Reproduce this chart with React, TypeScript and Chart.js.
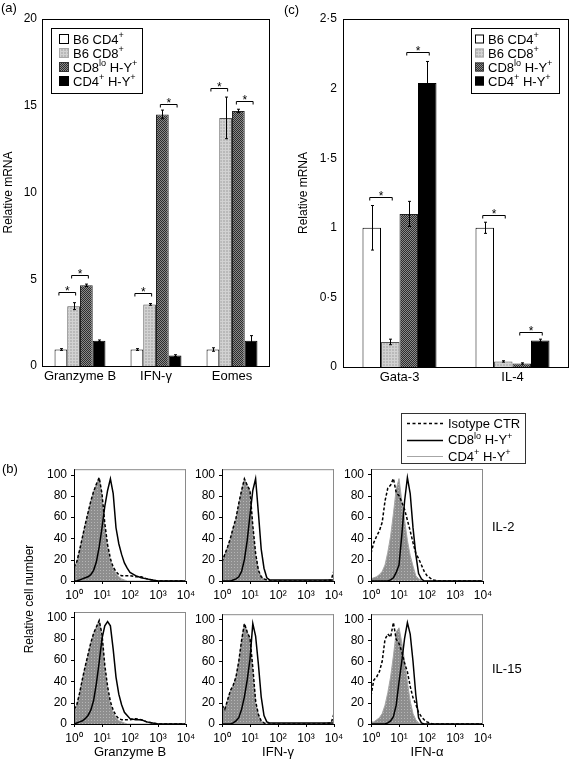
import React, { useEffect, useRef } from 'react';
import { Chart, registerables } from 'chart.js';

Chart.register(...registerables);

const FONT = "'Liberation Sans', Arial, Helvetica, sans-serif";
Chart.defaults.font.family = FONT;
Chart.defaults.color = '#000';

// ---------------- shared series labels ----------------
const SERIES_LABELS = ['B6 CD4^+', 'B6 CD8^+', 'CD8^{lo} H-Y^+', 'CD4^+ H-Y^+'];

// ---------------- Panel (a) ----------------
const A_CATEGORIES = ['Granzyme B', 'IFN-γ', 'Eomes'];
const A_B6_CD4 = [0.95, 0.95, 0.95];
const A_B6_CD8 = [3.45, 3.55, 14.3];
const A_CD8LO_HY = [4.65, 14.5, 14.7];
const A_CD4_HY = [1.45, 0.6, 1.45];
const A_ERR_B6_CD4 = [0.05, 0.05, 0.1];
const A_ERR_B6_CD8 = [0.2, 0.05, 1.2];
const A_ERR_CD8LO_HY = [0.07, 0.25, 0.1];
const A_ERR_CD4_HY = [0.05, 0.05, 0.3];
// significance brackets: [category, series A, series B, height]
const A_SIG = [
  [0, 0, 1, 4.28],
  [0, 1, 2, 5.24],
  [1, 0, 1, 4.19],
  [1, 2, 3, 15.1],
  [2, 0, 1, 16.0],
  [2, 2, 3, 15.3],
];
const A_Y_MAX = 20;
const A_Y_STEP = 5;

// ---------------- Panel (c) ----------------
const C_CATEGORIES = ['Gata-3', 'IL-4'];
const C_B6_CD4 = [1.0, 1.0];
const C_B6_CD8 = [0.18, 0.04];
const C_CD8LO_HY = [1.1, 0.025];
const C_CD4_HY = [2.04, 0.19];
const C_ERR_B6_CD4 = [0.16, 0.04];
const C_ERR_B6_CD8 = [0.02, 0.005];
const C_ERR_CD8LO_HY = [0.09, 0.005];
const C_ERR_CD4_HY = [0.155, 0.01];
const C_SIG = [
  [0, 0, 1, 1.22],
  [0, 2, 3, 2.26],
  [1, 0, 1, 1.09],
  [1, 2, 3, 0.255],
];
const C_Y_MAX = 2.5;
const C_Y_STEP = 0.5;

// ---------------- Panel (b) histograms ----------------
const LOG_X = [0, 0.1, 0.2, 0.3, 0.4, 0.5, 0.6, 0.7, 0.8, 0.9, 1.0, 1.1, 1.2, 1.3, 1.4, 1.5, 1.6, 1.7, 1.8, 1.9, 2.0, 2.2, 2.4, 2.6, 2.8, 3.0, 3.5, 3.9, 4.0];
const HIST_X_TICK_LABELS = ['10⁰', '10¹', '10²', '10³', '10⁴'];
const HIST_LEGEND = ['Isotype CTR', 'CD8^{lo} H-Y^+', 'CD4^+ H-Y^+'];

const GZB_IL2_CD8 = [0, 0, 1, 2, 3, 4, 6, 10, 18, 32, 50, 70, 85, 96, 82, 50, 35, 25, 17, 12, 8, 5, 3, 2, 1, 0, 0, 0, 0];
const GZB_IL2_ISO = [13, 18, 29, 41, 53, 64, 75, 84, 91, 97, 82, 54, 34, 21, 13, 9, 6, 5, 5, 5, 5, 4, 4, 2, 1, 0, 0, 0, 0];
const GZB_IL2_CD4 = [13, 18, 29, 41, 53, 64, 75, 84, 91, 97, 80, 50, 32, 19, 12, 7, 4, 2, 1, 0, 0, 0, 0, 0, 0, 0, 0, 0, 0];

const IFNG_IL2_CD8 = [0, 0, 0, 0, 1, 2, 4, 9, 20, 38, 62, 85, 96, 64, 30, 12, 3, 1, 1, 1, 1, 1, 1, 1, 1, 1, 1, 1, 1];
const IFNG_IL2_ISO = [18, 25, 32, 40, 50, 59, 73, 85, 96, 90, 85, 52, 26, 10, 4, 2, 1, 0, 0, 0, 0, 0, 0, 0, 0, 0, 0, 1, 10];
const IFNG_IL2_CD4 = [18, 25, 32, 40, 50, 59, 73, 85, 96, 90, 85, 50, 25, 10, 4, 2, 0, 0, 0, 0, 0, 0, 0, 0, 0, 0, 0, 0, 0];

const IFNA_IL2_CD8 = [0, 0, 0, 0, 0, 0, 0, 1, 3, 8, 15, 43, 75, 97, 82, 50, 25, 7, 2, 0, 0, 0, 0, 0, 0, 0, 0, 0, 0];
const IFNA_IL2_ISO = [26, 36, 42, 47, 55, 75, 87, 90, 96, 83, 80, 74, 67, 57, 47, 36, 26, 21, 15, 9, 5, 1, 0, 0, 0, 0, 0, 0, 0];
const IFNA_IL2_CD4 = [2, 3, 4, 6, 9, 15, 27, 42, 63, 86, 96, 75, 57, 38, 24, 14, 5, 2, 1, 0, 0, 0, 0, 0, 0, 0, 0, 0, 0];

const GZB_IL15_CD8 = [0, 1, 2, 3, 5, 8, 13, 22, 38, 58, 80, 92, 96, 92, 70, 44, 28, 18, 11, 8, 5, 4, 4, 2, 1, 0, 0, 0, 0];
const GZB_IL15_ISO = [14, 18, 29, 42, 54, 65, 76, 85, 91, 97, 84, 55, 35, 21, 13, 8, 5, 4, 4, 4, 4, 5, 4, 2, 1, 0, 0, 0, 0];
const GZB_IL15_CD4 = [14, 18, 29, 42, 54, 65, 76, 85, 91, 97, 82, 52, 32, 19, 11, 6, 3, 2, 1, 0, 0, 0, 0, 0, 0, 0, 0, 0, 0];

const IFNG_IL15_CD8 = [0, 0, 0, 0, 1, 3, 6, 14, 26, 42, 62, 96, 84, 57, 26, 8, 2, 1, 1, 1, 1, 1, 1, 1, 1, 1, 1, 1, 1];
const IFNG_IL15_ISO = [18, 14, 23, 32, 37, 45, 60, 80, 96, 88, 82, 54, 22, 9, 3, 1, 0, 0, 0, 0, 0, 0, 0, 0, 0, 0, 0, 1, 10];
const IFNG_IL15_CD4 = [18, 14, 23, 32, 37, 45, 60, 80, 96, 88, 82, 52, 20, 9, 3, 1, 0, 0, 0, 0, 0, 0, 0, 0, 0, 0, 0, 0, 0];

const IFNA_IL15_CD8 = [0, 0, 0, 0, 0, 0, 1, 3, 7, 18, 40, 60, 82, 97, 86, 60, 28, 6, 1, 0, 0, 0, 0, 0, 0, 0, 0, 0, 0];
const IFNA_IL15_ISO = [27, 42, 45, 50, 60, 81, 86, 83, 97, 81, 77, 69, 58, 50, 36, 25, 19, 11, 7, 4, 2, 0, 0, 0, 0, 0, 0, 0, 0];
const IFNA_IL15_CD4 = [2, 2, 4, 6, 10, 18, 30, 45, 65, 88, 92, 78, 60, 40, 22, 10, 4, 1, 0, 0, 0, 0, 0, 0, 0, 0, 0, 0, 0];

// ---------------- helpers ----------------
type Pad = { left: number; top: number; right: number; bottom: number };

function makePattern(size: number, paint: (c: CanvasRenderingContext2D) => void): any {
  const cv = document.createElement('canvas');
  cv.width = size;
  cv.height = size;
  const c = cv.getContext('2d')!;
  paint(c);
  return c.createPattern(cv, 'repeat') || '#999';
}
const lightPattern = () =>
  makePattern(3, (c) => {
    c.fillStyle = '#b9b9b9';
    c.fillRect(0, 0, 3, 3);
    c.fillStyle = '#d2d2d2';
    c.fillRect(0, 0, 3, 1);
    c.fillRect(0, 0, 1, 3);
  });
const darkPattern = () =>
  makePattern(2, (c) => {
    c.fillStyle = '#8a8a8a';
    c.fillRect(0, 0, 2, 2);
    c.fillStyle = '#2c2c2c';
    c.fillRect(0, 0, 1, 1);
    c.fillRect(1, 1, 1, 1);
  });
const histPattern = () =>
  makePattern(3, (c) => {
    c.fillStyle = '#8e8e8e';
    c.fillRect(0, 0, 3, 3);
    c.fillStyle = '#b6b6b6';
    c.fillRect(1, 1, 1, 1);
  });

function parseRich(s: string) {
  const out: { t: string; sup: boolean }[] = [];
  let buf = '';
  for (let i = 0; i < s.length; i++) {
    const ch = s[i];
    if (ch === '^') {
      if (buf) {
        out.push({ t: buf, sup: false });
        buf = '';
      }
      if (s[i + 1] === '{') {
        const j = s.indexOf('}', i + 2);
        out.push({ t: s.slice(i + 2, j), sup: true });
        i = j;
      } else {
        out.push({ t: s[i + 1], sup: true });
        i++;
      }
    } else buf += ch;
  }
  if (buf) out.push({ t: buf, sup: false });
  return out;
}

function drawRich(ctx: CanvasRenderingContext2D, s: string, x: number, yCenter: number, size: number) {
  ctx.save();
  ctx.textBaseline = 'alphabetic';
  ctx.textAlign = 'left';
  ctx.fillStyle = '#000';
  const base = yCenter + size * 0.36;
  let cx = x;
  for (const p of parseRich(s)) {
    const fs = p.sup ? size * 0.7 : size;
    ctx.font = `${fs}px ${FONT}`;
    ctx.fillText(p.t, cx, p.sup ? base - size * 0.4 : base);
    cx += ctx.measureText(p.t).width;
  }
  ctx.restore();
}

function drawText(ctx: CanvasRenderingContext2D, s: string, x: number, yCenter: number, size: number, align: CanvasTextAlign = 'left', rot = 0) {
  ctx.save();
  ctx.translate(x, yCenter);
  ctx.rotate(rot);
  ctx.font = `${size}px ${FONT}`;
  ctx.fillStyle = '#000';
  ctx.textAlign = align;
  ctx.textBaseline = 'middle';
  ctx.fillText(s, 0, 0);
  ctx.restore();
}

// ---------------- bar chart config ----------------
interface BarSpec {
  labels: string[];
  series: number[][];
  errors: number[][];
  sig: number[][];
  yMax: number;
  yStep: number;
  tickFmt?: (v: number) => string;
  padding: Pad;
  yW: number;
  xH: number;
  yTickPad: number;
  titlePadTop: number;
  catPct: number;
  legend: { x: number; y: number; w: number; h: number; sx: number; sw: number; tx: number };
  panel: { text: string; x: number; y: number };
}

function barConfig(p: BarSpec): any {
  const fills = ['#ffffff', lightPattern(), darkPattern(), '#000000'];
  const swatchBorders = ['#000', '#a8a8a8', '#333', '#000'];
  const barBorders = ['#000', '#555', '#222', '#000'];
  return {
    type: 'bar',
    data: {
      labels: p.labels,
      datasets: p.series.map((d, i) => ({
        label: SERIES_LABELS[i],
        data: d,
        errors: p.errors[i],
        backgroundColor: fills[i],
        borderColor: barBorders[i],
        borderWidth: 1,
        categoryPercentage: p.catPct,
        barPercentage: 1,
      })),
    },
    options: {
      responsive: false,
      animation: false,
      devicePixelRatio: 1,
      layout: { padding: p.padding },
      plugins: { legend: { display: false }, tooltip: { enabled: false } },
      scales: {
        x: {
          grid: { display: false, drawTicks: false },
          border: { display: false },
          ticks: { font: { size: 13 }, color: '#000', padding: 3, maxRotation: 0 },
          afterFit: (s: any) => {
            s.height = p.xH;
          },
        },
        y: {
          min: 0,
          max: p.yMax,
          grid: { display: false, drawTicks: false },
          border: { display: false },
          ticks: {
            stepSize: p.yStep,
            font: { size: 12 },
            color: '#000',
            padding: p.yTickPad,
            callback: p.tickFmt ? (v: any) => p.tickFmt!(Number(v)) : undefined,
          },
          title: { display: true, text: 'Relative mRNA', font: { size: 12 }, color: '#000', padding: { top: p.titlePadTop, bottom: 0 } },
          afterFit: (s: any) => {
            s.width = p.yW;
          },
        },
      },
    },
    plugins: [
      {
        id: 'barExtras',
        afterDraw(chart: any) {
          const ctx: CanvasRenderingContext2D = chart.ctx;
          const { left, top, right, bottom } = chart.chartArea;
          const ys = chart.scales.y;
          ctx.save();
          // error bars
          ctx.strokeStyle = '#000';
          ctx.lineWidth = 1;
          chart.data.datasets.forEach((ds: any, i: number) => {
            const meta = chart.getDatasetMeta(i);
            ds.data.forEach((v: number, j: number) => {
              const e = ds.errors[j];
              const x = Math.round(meta.data[j].x) + 0.5;
              const yt = ys.getPixelForValue(v + e);
              const yb = ys.getPixelForValue(Math.max(0, v - e));
              ctx.beginPath();
              ctx.moveTo(x, yt);
              ctx.lineTo(x, yb);
              ctx.moveTo(x - 1.5, yt);
              ctx.lineTo(x + 1.5, yt);
              ctx.moveTo(x - 1.5, yb);
              ctx.lineTo(x + 1.5, yb);
              ctx.stroke();
            });
          });
          // significance brackets
          for (const [c, a, b, v] of p.sig) {
            const xa = chart.getDatasetMeta(a).data[c].x - 2;
            const xb = chart.getDatasetMeta(b).data[c].x + 2;
            const yp = Math.round(ys.getPixelForValue(v)) + 0.5;
            ctx.beginPath();
            ctx.moveTo(xa, yp + 3);
            ctx.lineTo(xa, yp);
            ctx.lineTo(xb, yp);
            ctx.lineTo(xb, yp + 3);
            ctx.stroke();
            ctx.font = `12px ${FONT}`;
            ctx.fillStyle = '#000';
            ctx.textAlign = 'center';
            ctx.textBaseline = 'alphabetic';
            ctx.fillText('*', (xa + xb) / 2, yp + 2.5);
          }
          // frame
          ctx.strokeStyle = '#000';
          ctx.lineWidth = 1;
          ctx.strokeRect(left + 0.5, top + 0.5, right - left - 1, bottom - top);
          // legend
          const L = p.legend;
          ctx.fillStyle = '#fff';
          ctx.fillRect(L.x, L.y, L.w, L.h);
          ctx.strokeStyle = '#000';
          ctx.strokeRect(L.x + 0.5, L.y + 0.5, L.w, L.h);
          chart.data.datasets.forEach((ds: any, i: number) => {
            const yc = L.y + 11 + i * 14;
            ctx.fillStyle = ds.backgroundColor;
            ctx.fillRect(L.sx, yc - L.sw / 2, L.sw, L.sw);
            ctx.strokeStyle = swatchBorders[i];
            ctx.strokeRect(L.sx + 0.5, yc - L.sw / 2 + 0.5, L.sw - 1, L.sw - 1);
            drawRich(ctx, ds.label, L.tx, yc, 13);
          });
          ctx.restore();
          drawText(ctx, p.panel.text, p.panel.x, p.panel.y, 13);
        },
      },
    ],
  };
}

// ---------------- histogram config ----------------
interface HistSpec {
  cd8: number[];
  iso: number[];
  cd4: number[];
  padding: Pad;
  xAxisH: number;
  xTitle?: string;
  annotate?: (ctx: CanvasRenderingContext2D) => void;
}

function histConfig(h: HistSpec): any {
  const gray = histPattern();
  const pts = (ys: number[]) => LOG_X.map((x, i) => ({ x, y: ys[i] }));
  return {
    type: 'line',
    data: {
      datasets: [
        { label: HIST_LEGEND[1], data: pts(h.cd8), borderColor: '#000', borderWidth: 1.5, pointRadius: 0, fill: false, tension: 0 },
        { label: HIST_LEGEND[0], data: pts(h.iso), borderColor: '#000', borderWidth: 1.5, borderDash: [3, 2], pointRadius: 0, fill: false, tension: 0 },
        { label: HIST_LEGEND[2], data: pts(h.cd4), borderColor: '#a6a6a6', borderWidth: 1, backgroundColor: gray, fill: 'origin', pointRadius: 0, tension: 0 },
      ],
    },
    options: {
      responsive: false,
      animation: false,
      devicePixelRatio: 1,
      layout: { padding: h.padding },
      plugins: { legend: { display: false }, tooltip: { enabled: false } },
      scales: {
        x: {
          type: 'linear',
          min: 0,
          max: 4,
          grid: { display: false, drawTicks: false },
          border: { display: false },
          ticks: {
            stepSize: 1,
            autoSkip: false,
            maxRotation: 0,
            padding: 7,
            font: { size: 12 },
            color: '#000',
            callback: (v: any) => HIST_X_TICK_LABELS[Number(v)] ?? '',
          },
          title: h.xTitle
            ? { display: true, text: h.xTitle, font: { size: 13 }, color: '#000', padding: { top: 0, bottom: 0 } }
            : { display: false },
          afterFit: (s: any) => {
            s.height = h.xAxisH;
          },
        },
        y: {
          type: 'linear',
          min: 0,
          max: 105,
          grid: { display: false, drawTicks: false },
          border: { display: false },
          ticks: { stepSize: 20, includeBounds: false, padding: 7, font: { size: 12 }, color: '#000' },
          afterFit: (s: any) => {
            s.width = 40;
          },
        },
      },
    },
    plugins: [
      {
        id: 'histFrame',
        afterDraw(chart: any) {
          const ctx: CanvasRenderingContext2D = chart.ctx;
          const { left, top, right, bottom } = chart.chartArea;
          ctx.save();
          ctx.lineWidth = 1;
          ctx.strokeStyle = '#8a8a8a';
          ctx.beginPath();
          ctx.moveTo(left, top + 0.5);
          ctx.lineTo(right, top + 0.5);
          ctx.moveTo(right - 0.5, top);
          ctx.lineTo(right - 0.5, bottom);
          ctx.stroke();
          ctx.strokeStyle = '#000';
          ctx.beginPath();
          ctx.moveTo(left + 0.5, top);
          ctx.lineTo(left + 0.5, bottom + 1);
          ctx.moveTo(left, bottom + 0.5);
          ctx.lineTo(right, bottom + 0.5);
          const ys = chart.scales.y;
          const xs = chart.scales.x;
          for (const t of ys.ticks) {
            const yp = Math.round(ys.getPixelForValue(t.value)) + 0.5;
            ctx.moveTo(left - 3, yp);
            ctx.lineTo(left, yp);
          }
          for (const t of xs.ticks) {
            const xp = Math.round(xs.getPixelForValue(t.value)) + 0.5;
            ctx.moveTo(xp, bottom);
            ctx.lineTo(xp, bottom + 3);
          }
          ctx.stroke();
          ctx.restore();
          if (h.annotate) h.annotate(ctx);
        },
      },
    ],
  };
}

function drawHistLegend(ctx: CanvasRenderingContext2D, bx: number, by: number) {
  ctx.save();
  ctx.fillStyle = '#fff';
  ctx.fillRect(bx, by, 124, 50);
  ctx.strokeStyle = '#333';
  ctx.lineWidth = 1;
  ctx.strokeRect(bx + 0.5, by + 0.5, 124, 50);
  const styles = [
    { c: '#000', w: 1.5, d: [3, 2.5] },
    { c: '#000', w: 1.5, d: [] as number[] },
    { c: '#a6a6a6', w: 1, d: [] as number[] },
  ];
  styles.forEach((s, i) => {
    const yc = by + 10 + i * 16.5;
    ctx.strokeStyle = s.c;
    ctx.lineWidth = s.w;
    ctx.setLineDash(s.d);
    ctx.beginPath();
    ctx.moveTo(bx + 6, Math.round(yc) + 0.5);
    ctx.lineTo(bx + 42, Math.round(yc) + 0.5);
    ctx.stroke();
    ctx.setLineDash([]);
    drawRich(ctx, HIST_LEGEND[i], bx + 47, yc, 13);
  });
  ctx.restore();
}

// ---------------- components ----------------
function ChartBox({ x, y, w, h, make }: { x: number; y: number; w: number; h: number; make: () => any }) {
  const ref = useRef<HTMLCanvasElement>(null);
  useEffect(() => {
    const chart = new Chart(ref.current as HTMLCanvasElement, make());
    return () => chart.destroy();
  }, []);
  return <canvas ref={ref} width={w} height={h} style={{ position: 'absolute', left: x, top: y, width: w, height: h }} />;
}

export default function App() {
  return (
    <div style={{ position: 'absolute', left: 0, top: 0, width: 570, height: 763, background: '#fff', overflow: 'hidden' }}>
      <ChartBox
        x={0}
        y={0}
        w={285}
        h={392}
        make={() =>
          barConfig({
            labels: A_CATEGORIES,
            series: [A_B6_CD4, A_B6_CD8, A_CD8LO_HY, A_CD4_HY],
            errors: [A_ERR_B6_CD4, A_ERR_B6_CD8, A_ERR_CD8LO_HY, A_ERR_CD4_HY],
            sig: A_SIG,
            yMax: A_Y_MAX,
            yStep: A_Y_STEP,
            padding: { left: 0, top: 19, right: 15, bottom: 0 },
            yW: 42,
            xH: 26,
            yTickPad: 5,
            titlePadTop: 1,
            catPct: 0.67,
            legend: { x: 51, y: 28, w: 91, h: 65, sx: 59, sw: 10, tx: 73 },
            panel: { text: '(a)', x: 1, y: 8 },
          })
        }
      />
      <ChartBox
        x={283}
        y={0}
        w={287}
        h={392}
        make={() =>
          barConfig({
            labels: C_CATEGORIES,
            series: [C_B6_CD4, C_B6_CD8, C_CD8LO_HY, C_CD4_HY],
            errors: [C_ERR_B6_CD4, C_ERR_B6_CD8, C_ERR_CD8LO_HY, C_ERR_CD4_HY],
            sig: C_SIG,
            yMax: C_Y_MAX,
            yStep: C_Y_STEP,
            tickFmt: (v) => String(v).replace('.', '·'),
            padding: { left: 0, top: 19, right: 1, bottom: 0 },
            yW: 60,
            xH: 25,
            yTickPad: 6,
            titlePadTop: 13,
            catPct: 0.655,
            legend: { x: 188, y: 28, w: 88, h: 65, sx: 192, sw: 9, tx: 205 },
            panel: { text: '(c)', x: 1, y: 10 },
          })
        }
      />
      {/* Row 1: IL-2 */}
      <ChartBox
        x={0}
        y={455}
        w={205}
        h={146}
        make={() =>
          histConfig({
            cd8: GZB_IL2_CD8,
            iso: GZB_IL2_ISO,
            cd4: GZB_IL2_CD4,
            padding: { left: 34, top: 14, right: 19, bottom: 0 },
            xAxisH: 20,
            annotate: (ctx) => drawText(ctx, '(b)', 2, 14, 13),
          })
        }
      />
      <ChartBox
        x={182}
        y={455}
        w={175}
        h={146}
        make={() =>
          histConfig({
            cd8: IFNG_IL2_CD8,
            iso: IFNG_IL2_ISO,
            cd4: IFNG_IL2_CD4,
            padding: { left: 0, top: 14, right: 23, bottom: 0 },
            xAxisH: 20,
          })
        }
      />
      <ChartBox
        x={331}
        y={405}
        w={239}
        h={196}
        make={() =>
          histConfig({
            cd8: IFNA_IL2_CD8,
            iso: IFNA_IL2_ISO,
            cd4: IFNA_IL2_CD4,
            padding: { left: 0, top: 64, right: 87, bottom: 0 },
            xAxisH: 20,
            annotate: (ctx) => {
              drawHistLegend(ctx, 70, 8);
              drawText(ctx, 'IL-2', 161, 122, 13);
            },
          })
        }
      />
      {/* Row 2: IL-15 */}
      <ChartBox
        x={0}
        y={530}
        w={205}
        h={233}
        make={() =>
          histConfig({
            cd8: GZB_IL15_CD8,
            iso: GZB_IL15_ISO,
            cd4: GZB_IL15_CD4,
            padding: { left: 34, top: 82, right: 19, bottom: 3 },
            xAxisH: 36,
            xTitle: 'Granzyme B',
            annotate: (ctx) => drawText(ctx, 'Relative cell number', 30, 69, 12, 'center', -Math.PI / 2),
          })
        }
      />
      <ChartBox
        x={182}
        y={600}
        w={175}
        h={163}
        make={() =>
          histConfig({
            cd8: IFNG_IL15_CD8,
            iso: IFNG_IL15_ISO,
            cd4: IFNG_IL15_CD4,
            padding: { left: 0, top: 12, right: 23, bottom: 3 },
            xAxisH: 36,
            xTitle: 'IFN-γ',
          })
        }
      />
      <ChartBox
        x={331}
        y={600}
        w={239}
        h={163}
        make={() =>
          histConfig({
            cd8: IFNA_IL15_CD8,
            iso: IFNA_IL15_ISO,
            cd4: IFNA_IL15_CD4,
            padding: { left: 0, top: 12, right: 87, bottom: 3 },
            xAxisH: 36,
            xTitle: 'IFN-α',
            annotate: (ctx) => drawText(ctx, 'IL-15', 161, 69, 13),
          })
        }
      />
    </div>
  );
}
